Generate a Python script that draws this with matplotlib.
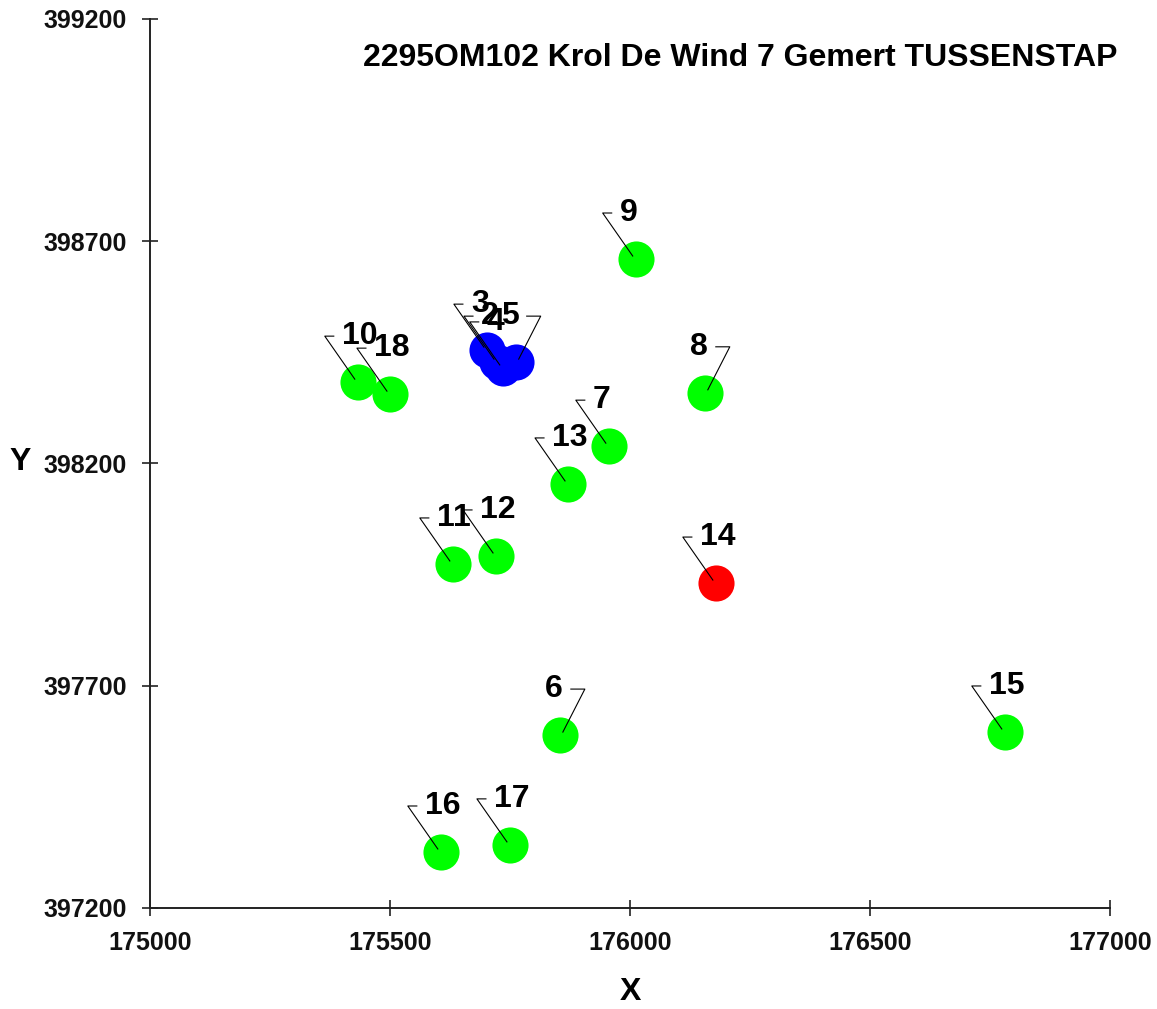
import matplotlib
matplotlib.use("Agg")
import matplotlib.pyplot as plt
from matplotlib.transforms import Affine2D

plt.rcParams['font.family'] = ['Liberation Sans', 'DejaVu Sans']
plt.rcParams['font.weight'] = 'bold'

# meetpunten
labels = ['3', '2', '4', '5', '6', '7', '8', '9', '10', '11',
          '12', '13', '14', '15', '16', '17', '18']
x_vals = [175702, 175723, 175735, 175762, 175854, 175956, 176156, 176012, 175433, 175631,
          175721, 175871, 176179, 176781, 175606, 175750, 175500]
y_vals = [398455, 398428, 398415, 398428, 397589, 398239, 398359, 398660, 398383, 397974,
          397992, 398154, 397931, 397596, 397326, 397342, 398356]
groep = ['b', 'b', 'b', 'b', 'g', 'g', 'g', 'g', 'g', 'g',
         'g', 'g', 'r', 'g', 'g', 'g', 'g']
richting = ['L', 'L', 'L', 'R', 'R', 'L', 'R', 'L', 'L', 'L',
            'L', 'L', 'L', 'L', 'L', 'L', 'L']

kleuren = {'g': '#00FF00', 'b': '#0000FF', 'r': '#FF0000'}

x_ticks = [175000, 175500, 176000, 176500, 177000]
y_ticks = [397200, 397700, 398200, 398700, 399200]

fig = plt.figure(figsize=(11.57, 10.09), dpi=100)
ax = fig.add_axes([0.1296, 0.1001, 0.8297, 0.8811])

for x, y, g in zip(x_vals, y_vals, groep):
    ax.plot(x, y, 'o', color=kleuren[g], markersize=26, markeredgewidth=0, zorder=2)

ax.set_xlim(175000, 177000)
ax.set_ylim(397200, 399200)
ax.set_xticks(x_ticks)
ax.set_yticks(y_ticks)
ax.spines['top'].set_visible(False)
ax.spines['right'].set_visible(False)
for s in ['left', 'bottom']:
    ax.spines[s].set_linewidth(1.4)
    ax.spines[s].set_color('#222222')
ax.tick_params(direction='inout', length=11, width=1.2, color='#222222',
               labelsize=18, pad=11)
for t in ax.get_xticklabels() + ax.get_yticklabels():
    t.set_fontweight('bold')
    t.set_color('#111111')

ax.set_xlabel('X', fontsize=23, fontweight='bold')
ax.set_ylabel('Y', fontsize=23, fontweight='bold', rotation=0, va='center', ha='center')
ax.yaxis.set_label_coords(-0.135, 0.502)
ax.xaxis.set_label_coords(0.5, -0.078)

fig.text(0.966, 0.943, '2295OM102 Krol De Wind 7 Gemert TUSSENSTAP',
         fontsize=23, fontweight='bold', ha='right', va='center')

# labels met verbindingslijn (offsets in pixels)
for lab, x, y, r in zip(labels, x_vals, y_vals, richting):
    px, py = ax.transData.transform((x, y))
    if r == 'L':
        lx = [-3, -33, -24]
        tx, ha = -16, 'left'
    else:
        lx = [3, 25, 11]
        tx, ha = 3, 'right'
    ly = [3, 46, 46]
    ax.plot(lx, ly, color='black', linewidth=0.8, zorder=3,
            transform=Affine2D().translate(px, py), clip_on=False)
    ax.annotate(lab, (x, y), xytext=(tx, 46), textcoords='offset pixels',
                ha=ha, va='center', fontsize=23, fontweight='bold', zorder=4)

fig.savefig('out.png', dpi=100)
